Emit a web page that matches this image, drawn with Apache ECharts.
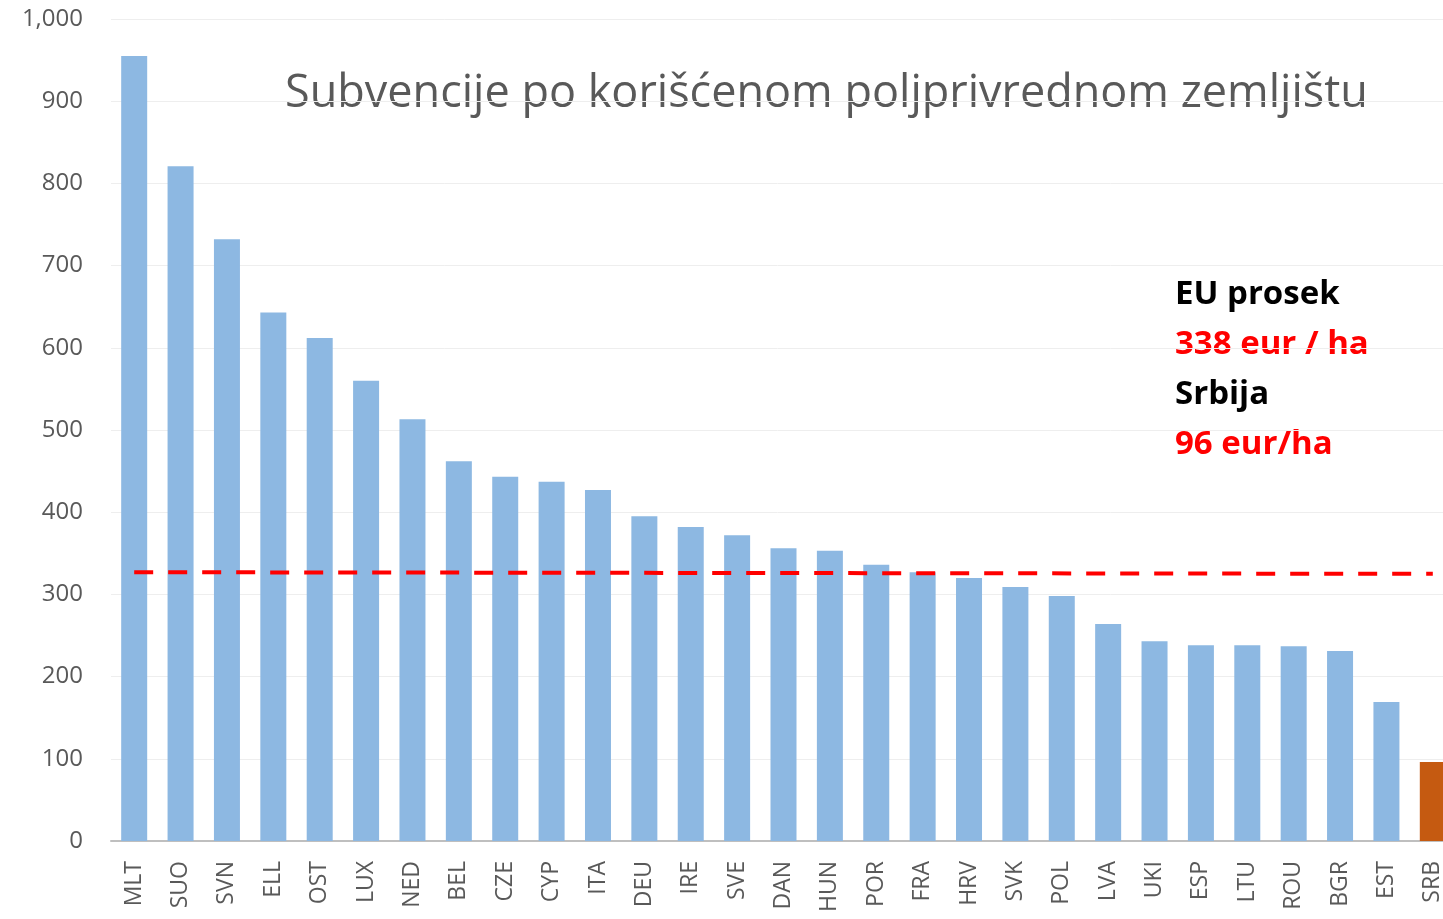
<!DOCTYPE html>
<html>
<head>
<meta charset="utf-8">
<script src="https://cdn.jsdelivr.net/npm/echarts@6/dist/echarts.min.js"></script>
<style>
  html, body { margin: 0; padding: 0; background: #fff; overflow: hidden; }
  #chart { width: 1443px; height: 919px; }
</style>
</head>
<body>
<div id="chart"></div>
<script>
// zemlje
const countries = ['MLT', 'SUO', 'SVN', 'ELL', 'OST', 'LUX', 'NED', 'BEL', 'CZE', 'CYP',
  'ITA', 'DEU', 'IRE', 'SVE', 'DAN', 'HUN', 'POR', 'FRA', 'HRV', 'SVK',
  'POL', 'LVA', 'UKI', 'ESP', 'LTU', 'ROU', 'BGR', 'EST', 'SRB']
// subvencije, eur / ha
const subsidies = [955, 821, 732, 643, 612, 560, 513, 462, 443, 437,
  427, 395, 382, 372, 356, 353, 336, 327, 320, 309,
  298, 264, 243, 238, 238, 237, 231, 169, 96]
// EU prosek (isprekidana linija, kako je nacrtana)
const avgLine = [327, 325]
const yTicks = { min: 0, max: 1000, interval: 100 }

const chart = echarts.init(document.getElementById('chart'))

const noteFont = 'bold 33px "Open Sans"'

chart.setOption({
  animation: false,
  // grafikon je odsečen desno, pa je mreža šira od platna
  grid: { left: 111, width: 1345, top: 19, bottom: 78, outerBoundsMode: 'none' },
  xAxis: {
    type: 'category',
    data: countries,
    axisLine: { lineStyle: { color: '#bfbfbf', width: 2 } },
    axisTick: { show: false },
    axisLabel: {
      rotate: 90,
      color: '#595959',
      fontFamily: 'Open Sans',
      fontSize: 23,
      margin: 20,
      interval: 0
    }
  },
  yAxis: {
    type: 'value',
    min: yTicks.min,
    max: yTicks.max,
    interval: yTicks.interval,
    axisLine: { show: false },
    axisTick: { show: false },
    axisLabel: {
      color: '#595959',
      fontFamily: 'Open Sans',
      fontSize: 24,
      margin: 28,
      formatter: v => v.toLocaleString('en-US')
    },
    splitLine: { lineStyle: { color: '#eeeeee', width: 1 } }
  },
  series: [{
    type: 'bar',
    barWidth: 26,
    data: subsidies.map((v, i) => ({
      value: v,
      itemStyle: { color: countries[i] === 'SRB' ? '#c55a11' : '#8db8e2' }
    })),
    markLine: {
      silent: true,
      symbol: 'none',
      label: { show: false },
      lineStyle: { color: '#ff0000', width: 4, type: [19, 15] },
      data: [[
        { coord: [countries[0], avgLine[0]] },
        { coord: [countries[countries.length - 1], avgLine[1]] }
      ]]
    }
  }],
  graphic: [
    {
      type: 'text', left: 285, top: 72,
      style: {
        text: 'Subvencije po korišćenom poljprivrednom zemljištu',
        fill: '#595959', font: '45px "Open Sans"'
      }
    },
    { type: 'text', left: 1175, top: 278, style: { text: 'EU prosek', fill: '#000', font: noteFont } },
    { type: 'text', left: 1175, top: 328, style: { text: '338 eur / ha', fill: '#ff0000', font: noteFont } },
    { type: 'text', left: 1175, top: 378, style: { text: 'Srbija', fill: '#000', font: noteFont } },
    { type: 'text', left: 1175, top: 428, style: { text: '96 eur/ha', fill: '#ff0000', font: noteFont } }
  ]
})
</script>
</body>
</html>
